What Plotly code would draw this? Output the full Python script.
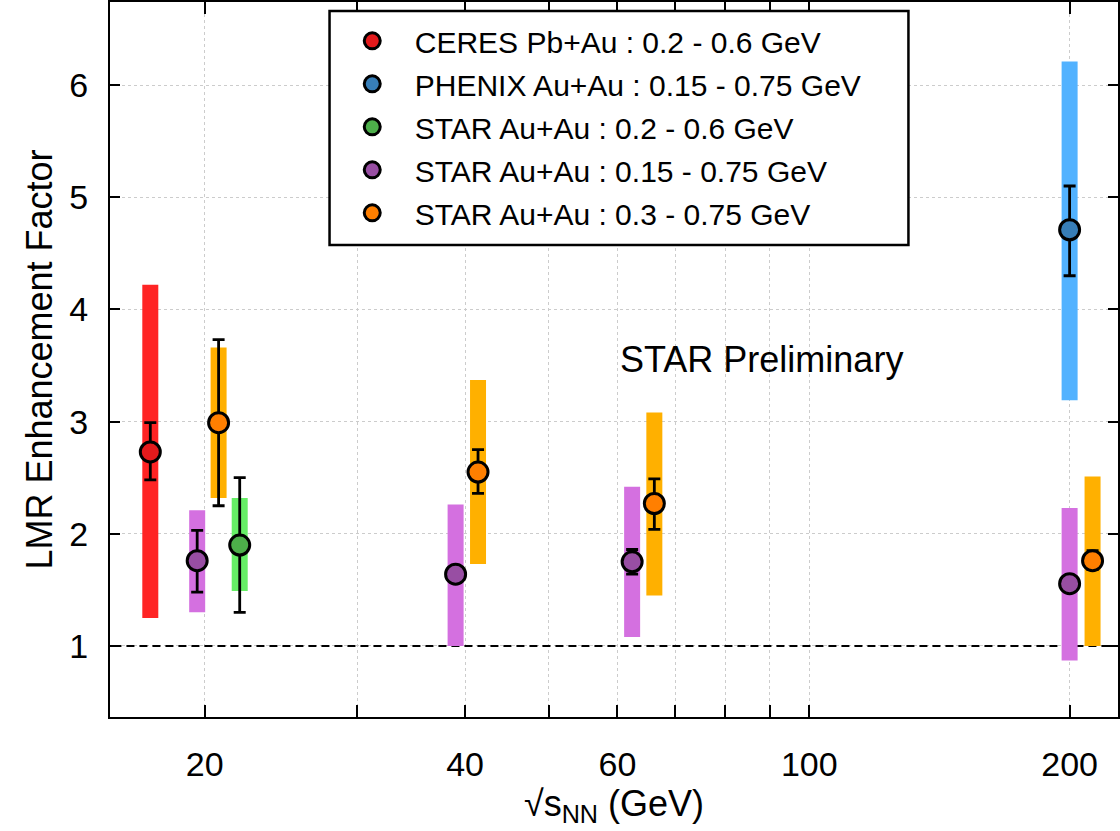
import plotly.graph_objects as go
import numpy as np

# ---------------- data ----------------
series_names = [
    "CERES Pb+Au : 0.2 - 0.6 GeV",
    "PHENIX Au+Au : 0.15 - 0.75 GeV",
    "STAR Au+Au : 0.2 - 0.6 GeV",
    "STAR Au+Au : 0.15 - 0.75 GeV",
    "STAR Au+Au : 0.3 - 0.75 GeV",
]
ceres_x = [17.3]
ceres_y = [2.73]
ceres_stat_lo = [2.48]
ceres_stat_hi = [2.99]
ceres_sys_lo = [1.25]
ceres_sys_hi = [4.22]

phenix_x = [200]
phenix_y = [4.71]
phenix_stat_lo = [4.30]
phenix_stat_hi = [5.10]
phenix_sys_lo = [3.19]
phenix_sys_hi = [6.21]

star_green_x = [21.95]
star_green_y = [1.90]
star_green_stat_lo = [1.30]
star_green_stat_hi = [2.50]
star_green_sys_lo = [1.49]
star_green_sys_hi = [2.32]

star_purple_x = [19.6, 39.0, 62.4, 200]
star_purple_y = [1.76, 1.64, 1.75, 1.555]
star_purple_stat_lo = [1.48, 1.57, 1.64, 1.49]
star_purple_stat_hi = [2.03, 1.71, 1.86, 1.62]
star_purple_sys_lo = [1.30, 1.00, 1.08, 0.87]
star_purple_sys_hi = [2.21, 2.26, 2.42, 2.23]

star_orange_x = [20.75, 41.4, 66.2, 212.6]
star_orange_y = [2.99, 2.55, 2.27, 1.76]
star_orange_stat_lo = [2.25, 2.36, 2.04, 1.68]
star_orange_stat_hi = [3.73, 2.75, 2.49, 1.85]
star_orange_sys_lo = [2.32, 1.73, 1.45, 1.00]
star_orange_sys_hi = [3.66, 3.37, 3.08, 2.51]

marker_colors = ["#E41A1C", "#377EB8", "#4DAF4A", "#984EA3", "#FF7F00"]
band_colors = ["#FF2424", "#52B2FF", "#66EE66", "#D470E0", "#FFB000"]

x_tickvals = [20, 40, 60, 100, 200]
x_ticktext = ["20", "40", "60", "100", "200"]
x_minor = [30, 50, 70, 80, 90]
y_tickvals = [1, 2, 3, 4, 5, 6]

datasets = [
    (ceres_x, ceres_y, ceres_stat_lo, ceres_stat_hi, ceres_sys_lo, ceres_sys_hi),
    (phenix_x, phenix_y, phenix_stat_lo, phenix_stat_hi, phenix_sys_lo, phenix_sys_hi),
    (star_green_x, star_green_y, star_green_stat_lo, star_green_stat_hi, star_green_sys_lo, star_green_sys_hi),
    (star_purple_x, star_purple_y, star_purple_stat_lo, star_purple_stat_hi, star_purple_sys_lo, star_purple_sys_hi),
    (star_orange_x, star_orange_y, star_orange_stat_lo, star_orange_stat_hi, star_orange_sys_lo, star_orange_sys_hi),
]

FONT = "Liberation Sans, Arial, Helvetica, sans-serif"

fig = go.Figure()

# reference line at 1
fig.add_trace(go.Scatter(
    x=[10, 300], y=[1, 1], mode="lines",
    line=dict(color="black", width=2.2, dash="8px,5px"),
    showlegend=False, hoverinfo="skip",
))

# systematic bands (drawn as thick error bars)
for i, (x, y, slo, shi, ylo, yhi) in enumerate(datasets):
    y = np.array(y); ylo = np.array(ylo); yhi = np.array(yhi)
    fig.add_trace(go.Scatter(
        x=x, y=y, mode="markers",
        marker=dict(size=1, color="rgba(0,0,0,0)"),
        error_y=dict(type="data", symmetric=False, array=yhi - y, arrayminus=y - ylo,
                     color=band_colors[i], thickness=16, width=0),
        showlegend=False, hoverinfo="skip",
    ))

# statistical error bars + markers
for i, (x, y, slo, shi, ylo, yhi) in enumerate(datasets):
    y = np.array(y); slo = np.array(slo); shi = np.array(shi)
    fig.add_trace(go.Scatter(
        x=x, y=y, mode="markers", name=series_names[i],
        legendgroup=f"g{i}",
        marker=dict(size=20, color=marker_colors[i], line=dict(color="black", width=3)),
        error_y=dict(type="data", symmetric=False, array=shi - y, arrayminus=y - slo,
                     color="black", thickness=2.8, width=6),
    ))

fig.add_annotation(
    x=np.log10(88), y=3.55, xref="x", yref="y", text="STAR Preliminary",
    showarrow=False, font=dict(family=FONT, size=36, color="black"),
)

# legend frame (white box with black border)
fig.add_shape(
    type="rect", xref="paper", yref="paper",
    x0=0.2178, x1=0.7921, y0=0.660, y1=0.9875,
    line=dict(color="black", width=2.5), fillcolor="white", layer="above",
)

fig.update_xaxes(
    type="log", range=[np.log10(15.54), np.log10(227.5)],
    tickvals=x_tickvals, ticktext=x_ticktext,
    ticks="inside", ticklen=12, tickwidth=1.5, tickcolor="black",
    showline=True, linecolor="black", linewidth=2, mirror="allticks",
    showgrid=True, gridcolor="#cccccc", griddash="dot", gridwidth=1,
    minor=dict(tickvals=x_minor, ticks="inside", ticklen=12, tickwidth=1.5, tickcolor="black",
               showgrid=True, gridcolor="#cccccc", griddash="dot", gridwidth=1),
    tickfont=dict(family=FONT, size=34, color="black"),
    ticklabelstandoff=16,
    title=dict(text="√s<sub>NN</sub> (GeV)", font=dict(family=FONT, size=36, color="black"), standoff=4),
    zeroline=False,
)
fig.update_yaxes(
    range=[0.367, 6.74],
    tickvals=y_tickvals,
    ticks="inside", ticklen=10, tickwidth=1.5, tickcolor="black",
    showline=True, linecolor="black", linewidth=2, mirror="allticks",
    showgrid=True, gridcolor="#cccccc", griddash="dot", gridwidth=1,
    tickfont=dict(family=FONT, size=34, color="black"),
    ticklabelstandoff=13,
    title=dict(text="LMR Enhancement Factor", font=dict(family=FONT, size=36, color="black"), standoff=6),
    zeroline=False,
)

fig.update_layout(
    width=1120, height=831,
    margin=dict(l=110, r=0, t=2, b=114),
    plot_bgcolor="white", paper_bgcolor="white",
    font=dict(family=FONT, color="black"),
    legend=dict(
        x=0.218, y=0.982, xanchor="left", yanchor="top",
        bgcolor="rgba(0,0,0,0)", borderwidth=0,
        font=dict(family=FONT, size=30, color="black"),
        traceorder="grouped", tracegroupgap=1, itemwidth=75,
    ),
)

fig.write_html("out.html", config={"displayModeBar": False},
               post_script="document.body.style.margin='0px';")
